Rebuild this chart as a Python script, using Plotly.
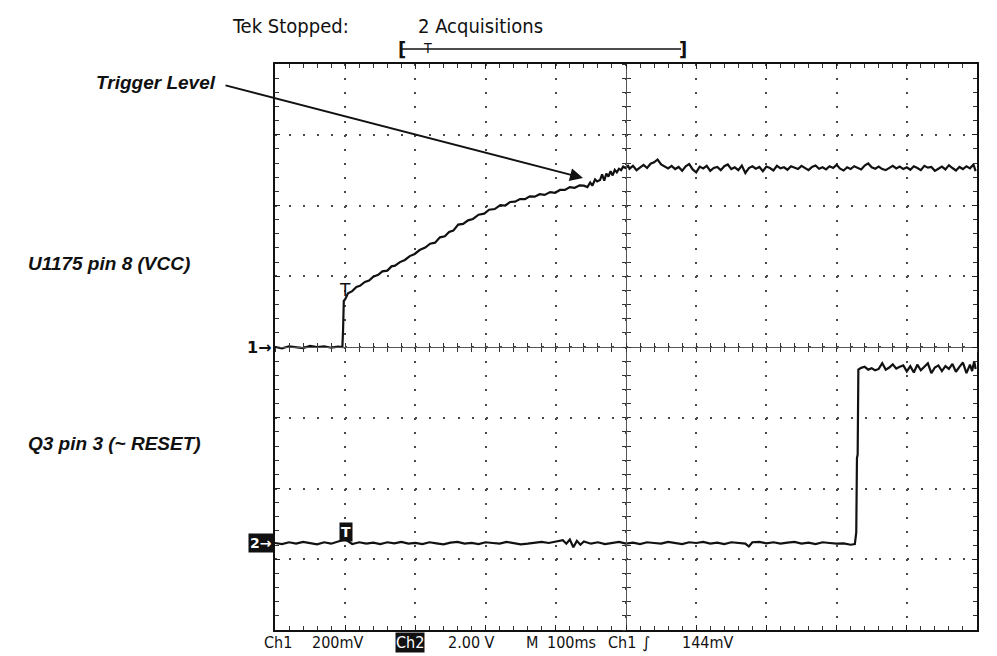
import plotly.graph_objects as go

# ---- waveform data read off the scope capture ----
# time in ms from the left edge of the screen (100 ms/div, 10 div)
ch1_t = [0, 10, 20, 30, 40, 50, 60, 70, 80, 90, 96,
         97, 98, 100, 104, 110, 116, 121, 128, 134, 140, 147, 153, 160, 166, 171, 178,
         185, 192, 199, 206, 214, 221, 228, 235, 242, 248, 254, 261, 268, 275, 282, 290,
         298, 305, 313, 321, 328, 335, 342, 349, 356, 363, 370, 377, 384, 392, 399, 406,
         413, 420, 427, 434, 440, 445, 449, 452, 456, 459, 463, 466, 469, 472, 475, 478,
         481, 484, 487, 490, 493, 496, 499, 503,
         505, 510, 515, 520, 525, 530, 535, 540, 545, 550, 555, 560, 565, 570, 575, 580,
         585, 590, 595, 600, 605, 610, 615, 620, 625, 630, 635, 640, 645, 650, 655, 660,
         665, 670, 675, 680, 685, 690, 695, 700, 705, 710, 715, 720, 725, 730, 735, 740,
         745, 750, 755, 760, 765, 770, 775, 780, 785, 790, 795, 800, 805, 810, 815, 820,
         825, 830, 835, 840, 845, 850, 855, 860, 865, 870, 875, 880, 885, 890, 895, 900,
         905, 910, 915, 920, 925, 930, 935, 940, 945, 950, 955, 960, 965, 970, 975, 980,
         985, 990, 995, 998]
# Ch1 volts (200 mV/div)
ch1_v = [0.000, -0.004, 0.002, 0.000, -0.003, 0.003, 0.000, 0.002, -0.002, 0.001, 0.000,
         0.050, 0.130, 0.135, 0.152, 0.158, 0.170, 0.173, 0.184, 0.188, 0.199, 0.204, 0.214, 0.216, 0.228, 0.230, 0.240,
         0.246, 0.257, 0.263, 0.274, 0.281, 0.292, 0.295, 0.310, 0.313, 0.325, 0.329, 0.346, 0.348, 0.358, 0.362, 0.374,
         0.377, 0.388, 0.390, 0.401, 0.400, 0.410, 0.411, 0.418, 0.418, 0.426, 0.425, 0.432, 0.430, 0.438, 0.436, 0.444,
         0.444, 0.452, 0.450, 0.457, 0.456, 0.452, 0.465, 0.456, 0.474, 0.468, 0.472, 0.488, 0.470, 0.490, 0.482, 0.497,
         0.485, 0.501, 0.494, 0.504, 0.500, 0.510, 0.506, 0.512,
         0.504, 0.512, 0.500, 0.508, 0.515, 0.506, 0.518, 0.522, 0.530, 0.516, 0.510, 0.505, 0.512, 0.503, 0.509, 0.498,
         0.511, 0.517, 0.502, 0.494, 0.510, 0.505, 0.512, 0.498, 0.506, 0.509, 0.500, 0.511, 0.516, 0.503, 0.508, 0.500,
         0.513, 0.492, 0.506, 0.511, 0.504, 0.509, 0.497, 0.510, 0.506, 0.499, 0.512, 0.505, 0.508, 0.501, 0.511, 0.506,
         0.503, 0.512, 0.507, 0.500, 0.509, 0.513, 0.504, 0.508, 0.502, 0.511, 0.506, 0.515, 0.504, 0.499, 0.508, 0.503,
         0.511, 0.507, 0.502, 0.513, 0.519, 0.508, 0.504, 0.510, 0.503, 0.500, 0.507, 0.512, 0.505, 0.510, 0.503, 0.508,
         0.501, 0.511, 0.506, 0.500, 0.512, 0.507, 0.509, 0.498, 0.504, 0.510, 0.502, 0.514, 0.506, 0.499, 0.509, 0.503,
         0.511, 0.505, 0.516, 0.497]

ch2_t = [0, 10, 20, 30, 40, 50, 60, 70, 80, 90, 100, 110, 120, 130, 140, 150, 160, 170, 180, 190,
         200, 210, 220, 230, 240, 250, 260, 270, 280, 290, 300, 310, 320, 330, 340, 350, 360, 370, 380, 390,
         400, 410, 415, 420, 425, 430, 435, 440, 450, 460, 470, 480, 490, 500, 510, 520, 530, 540, 550, 560,
         570, 580, 590, 600, 610, 620, 630, 640, 650, 660, 670, 675, 680, 690, 700, 710, 720, 730, 740, 750,
         760, 770, 780, 790, 800, 810, 820, 826,
         828, 829, 830, 831,
         835, 840, 845, 850, 855, 860, 865, 870, 875, 880, 885, 890, 895, 900, 905, 910, 915, 920, 925, 930,
         935, 940, 945, 950, 955, 960, 965, 970, 975, 980, 985, 990, 993, 996, 998]
# Ch2 volts (2.00 V/div)
ch2_v = [0.00, -0.03, 0.02, -0.02, 0.03, -0.01, -0.04, 0.02, -0.02, 0.04, 0.10, -0.03, 0.02, -0.02, 0.01, -0.03, 0.02, -0.01, 0.03, -0.02,
         0.00, -0.03, 0.02, -0.01, -0.04, 0.01, 0.03, -0.02, 0.00, -0.03, 0.02, 0.00, -0.02, 0.03, -0.01, -0.04, -0.02, 0.01, 0.03, 0.00,
         0.05, 0.08, -0.02, 0.10, -0.12, 0.06, -0.05, 0.04, -0.02, 0.02, -0.03, 0.01, 0.03, -0.02, 0.01, -0.03, 0.02, 0.00, -0.02, 0.03,
         -0.01, -0.03, 0.02, 0.00, 0.03, -0.02, 0.01, -0.03, 0.02, 0.00, -0.02, -0.10, 0.02, 0.03, -0.01, 0.02, -0.02, 0.01, 0.03, -0.02,
         0.01, -0.03, 0.02, 0.00, -0.02, -0.01, -0.05, -0.03,
         0.30, 2.40, 2.50, 4.90,
         4.95, 4.98, 4.90, 4.94, 4.88, 4.92, 5.08, 4.90, 4.96, 5.05, 4.93, 4.98, 5.02, 4.85, 5.00, 4.82, 5.04, 4.88, 4.98, 5.08,
         4.80, 4.96, 5.02, 4.86, 5.00, 4.92, 5.06, 4.84, 4.98, 5.10, 4.80, 5.04, 4.86, 5.14, 4.92]

trig_time = 99        # ms, where Ch1 crosses the trigger
trig_v = 0.139
ch2_ground_div = -2.77  # Ch2 ground marker, divisions below centre

W, H = 997, 656
L, R, T, B = 275, 20, 64, 26
PW, PH = W - L - R, H - T - B


def px(x):
    return (x - L) / PW


def py(y):
    return (H - B - y) / PH


FONT = "DejaVu Sans Condensed, Liberation Sans Narrow, DejaVu Sans, sans-serif"
LBL = "Liberation Sans, Arial, sans-serif"

fig = go.Figure()

fig.add_trace(go.Scatter(x=ch1_t, y=ch1_v, mode="lines", line=dict(color="#111", width=2.2),
                         showlegend=False, hoverinfo="skip"))
fig.add_trace(go.Scatter(x=ch2_t, y=ch2_v, mode="lines", line=dict(color="#111", width=2.2),
                         yaxis="y2", showlegend=False, hoverinfo="skip"))
# dummy traces so the centre-line axes get drawn
for xa, ya in [("x2", "y"), ("x3", "y"), ("x", "y3"), ("x", "y4")]:
    fig.add_trace(go.Scatter(x=[None], y=[None], xaxis=xa, yaxis=ya, showlegend=False, hoverinfo="skip"))

grid = dict(showgrid=True, gridcolor="#4a4a4a", gridwidth=2, showticklabels=False, zeroline=False,
            showline=True, linecolor="#111", linewidth=2, mirror="ticks", ticks="inside", ticklen=5,
            tickcolor="#222", tickwidth=1)
fig.update_layout(
    xaxis=dict(range=[0, 1000], dtick=100, tick0=0, griddash="2px,12.15px",
               minor=dict(dtick=20, ticks="inside", ticklen=4, tickcolor="#333", showgrid=False), **grid),
    yaxis=dict(range=[-0.8, 0.8], dtick=0.2, tick0=0, griddash="2px,12.04px",
               minor=dict(dtick=0.04, ticks="inside", ticklen=4, tickcolor="#333", showgrid=False), **grid),
    yaxis2=dict(overlaying="y", range=[(-4 - ch2_ground_div) * 2.0, (4 - ch2_ground_div) * 2.0], visible=False),
    xaxis2=dict(overlaying="x", anchor="free", position=0.5, range=[0, 1000], dtick=20, tick0=0,
                ticks="outside", ticklen=4, tickcolor="#333", showline=True, linecolor="#555", linewidth=1,
                showgrid=False, zeroline=False, showticklabels=False),
    xaxis3=dict(overlaying="x", anchor="free", position=0.5, range=[0, 1000], dtick=20, tick0=0,
                ticks="inside", ticklen=4, tickcolor="#333", showline=False,
                showgrid=False, zeroline=False, showticklabels=False),
    yaxis3=dict(overlaying="y", anchor="free", position=0.5, range=[-0.8, 0.8], dtick=0.04, tick0=0,
                ticks="outside", ticklen=4, tickcolor="#333", showline=True, linecolor="#555", linewidth=1,
                showgrid=False, zeroline=False, showticklabels=False),
    yaxis4=dict(overlaying="y", anchor="free", position=0.5, range=[-0.8, 0.8], dtick=0.04, tick0=0,
                ticks="inside", ticklen=4, tickcolor="#333", showline=False,
                showgrid=False, zeroline=False, showticklabels=False),
    width=W, height=H,
    margin=dict(l=L, r=R, t=T, b=B),
    paper_bgcolor="white", plot_bgcolor="white",
)

ann = []


def text(x, y, s, size, family=FONT, xanchor="left", color="#111", **kw):
    ann.append(dict(x=px(x), y=py(y), xref="paper", yref="paper", text=s, showarrow=False,
                    xanchor=xanchor, yanchor="middle", font=dict(family=family, size=size, color=color), **kw))


# header
text(230, 26, "Tek Stopped:", 20)
text(416, 26, "2 Acquisitions", 20)
text(396, 49, "<b>[</b>", 20)
text(677, 49, "<b>]</b>", 20)
text(421, 48, "T", 14)

# footer
text(262, 642, "Ch1", 16)
text(310, 642, "200mV", 16)
text(395, 642, "Ch2", 16, color="white", bgcolor="#111", borderpad=0)
text(446, 642, "2.00 V", 16)
text(524, 642, "M", 16)
text(545, 642, "100ms", 16)
text(606, 642, "Ch1", 16)
text(640, 642, "∫", 16, family="DejaVu Sans")
text(680, 642, "144mV", 16)

# side labels
text(218, 82, "<b><i>Trigger Level</i></b>", 19, family=LBL, xanchor="right")
text(26, 263, "<b><i>U1175 pin 8 (VCC)</i></b>", 19, family=LBL)
text(26, 443, "<b><i>Q3 pin 3 (~ RESET)</i></b>", 19, family=LBL)

# arrow to the trigger point
ann.append(dict(x=px(583), y=py(178), xref="paper", yref="paper", text="", showarrow=True,
                ax=224 - 583, ay=85 - 178, arrowhead=2, arrowsize=1.3, arrowwidth=2,
                arrowcolor="#111", standoff=0))

# channel ground markers
ann.append(dict(x=0, y=0, xref="paper", yref="y", text="<b>1→</b>", showarrow=False,
                xanchor="right", yanchor="middle", xshift=-1,
                font=dict(family="DejaVu Sans", size=16, color="#111")))
ann.append(dict(x=0, y=0, xref="paper", yref="y2", text="<b>2→</b>", showarrow=False,
                xanchor="right", yanchor="middle", xshift=-1, bgcolor="#111", borderpad=1,
                font=dict(family="DejaVu Sans", size=14, color="white")))

# trigger markers on the traces
ann.append(dict(x=trig_time, y=trig_v, xref="x", yref="y", text="T", showarrow=False,
                yanchor="bottom", yshift=-4, font=dict(family="DejaVu Sans", size=17, color="#111")))
ann.append(dict(x=trig_time + 2, y=0, xref="x", yref="y2", text="<b>T</b>", showarrow=False,
                yanchor="bottom", yshift=1, bgcolor="#111", borderpad=1,
                font=dict(family="DejaVu Sans", size=14, color="white")))

fig.update_layout(annotations=ann)

# record-length bracket line
fig.add_shape(type="line", xref="paper", yref="paper", x0=px(402), x1=px(681), y0=py(49), y1=py(49),
              line=dict(color="#111", width=1.5))

fig.write_html("out.html", config={"displayModeBar": False},
               post_script="document.body.style.margin='0';document.body.style.overflow='hidden';")
